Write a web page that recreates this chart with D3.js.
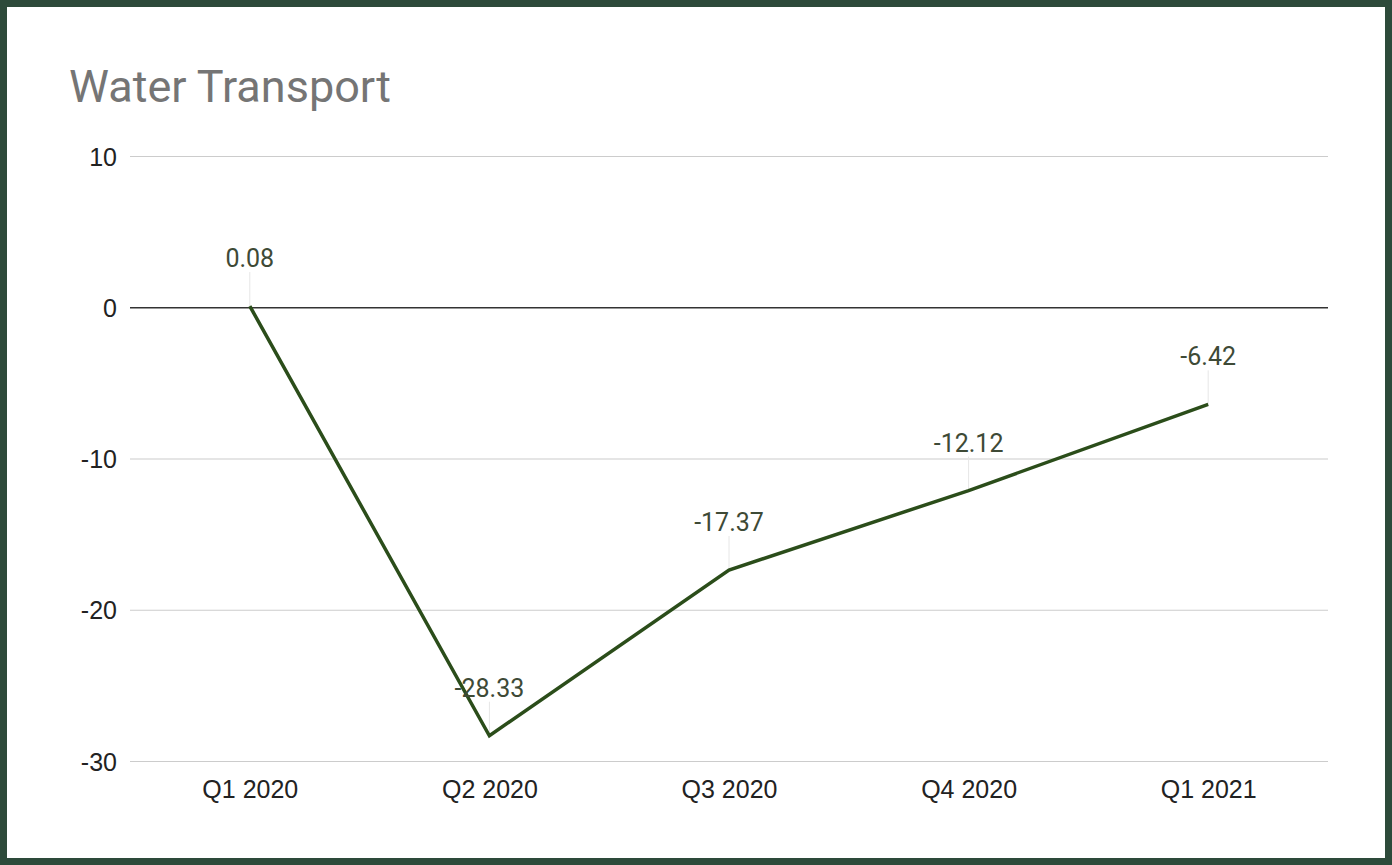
<!DOCTYPE html>
<html>
<head>
<meta charset="utf-8">
<script src="https://cdn.jsdelivr.net/npm/d3@7"></script>
<style>
html,body{margin:0;padding:0;background:#fff;}
svg{display:block;font-family:Roboto, "Liberation Sans", Arial, sans-serif;}
</style>
</head>
<body>
<svg id="chart" width="1392" height="865"></svg>
<script>
const categories = ["Q1 2020", "Q2 2020", "Q3 2020", "Q4 2020", "Q1 2021"];
const values = [0.08, -28.33, -17.37, -12.12, -6.42];
const valueLabels = ["0.08", "-28.33", "-17.37", "-12.12", "-6.42"];
const yTicks = [10, 0, -10, -20, -30];
const yTickLabels = ["10", "0", "-10", "-20", "-30"];
const title = "Water Transport";

(function () {
const W = 1392, H = 865;
const svg = d3.select("#chart");

// border
svg.append("rect").attr("x", 3.5).attr("y", 3.5).attr("width", W - 7).attr("height", H - 7)
  .attr("fill", "#fff").attr("stroke", "#2d4a3a").attr("stroke-width", 7);

const mLeft = 130, mRight = 1328, mTop = 156, mBottom = 761;

const x = d3.scalePoint().domain(categories).range([mLeft, mRight]).padding(0.5);
const y = d3.scaleLinear().domain([-30, 10]).range([mBottom, mTop]);

// title
svg.append("text").attr("x", 69).attr("y", 102).text(title)
  .attr("font-size", 45).attr("fill", "#757575");

// gridlines + y labels
const yAxis = d3.axisLeft(y).tickValues(yTicks).tickSize(-(mRight - mLeft))
  .tickFormat((d, i) => yTickLabels[i]);
const gy = svg.append("g").attr("transform", `translate(${mLeft},0)`).call(yAxis);
gy.select(".domain").remove();
gy.selectAll(".tick line").attr("stroke", d => d === 0 ? "#333" : "#cccccc").attr("stroke-width", d => d === 0 ? 1.5 : 1.2);
gy.selectAll(".tick text").attr("font-size", 25).attr("fill", "#222").attr("x", -13).attr("dy", "0.36em");

// x axis labels
const xAxis = d3.axisBottom(x).tickSize(0);
const gx = svg.append("g").attr("transform", `translate(0,${mBottom})`).call(xAxis);
gx.select(".domain").remove();
gx.selectAll(".tick text").attr("font-size", 25).attr("fill", "#222").attr("y", 37).attr("dy", "0");

const data = categories.map((c, i) => ({c, v: values[i], label: valueLabels[i]}));

// leader lines
svg.selectAll(".leader").data(data).enter().append("line")
  .attr("x1", d => x(d.c)).attr("x2", d => x(d.c))
  .attr("y1", d => y(d.v) - 34).attr("y2", d => y(d.v))
  .attr("stroke", "#e6e6e6").attr("stroke-width", 1);

// line
const line = d3.line().x(d => x(d.c)).y(d => y(d.v));
svg.append("path").datum(data).attr("d", line)
  .attr("fill", "none").attr("stroke", "#2b4d1a").attr("stroke-width", 3.5)
  .attr("stroke-linejoin", "miter");

// labels
svg.selectAll(".vlabel").data(data).enter().append("text")
  .attr("x", d => x(d.c)).attr("y", d => y(d.v) - 39)
  .attr("text-anchor", "middle").attr("font-size", 25).attr("fill", "#3e4a36")
  .text(d => d.label);
})();
</script>
</body>
</html>
